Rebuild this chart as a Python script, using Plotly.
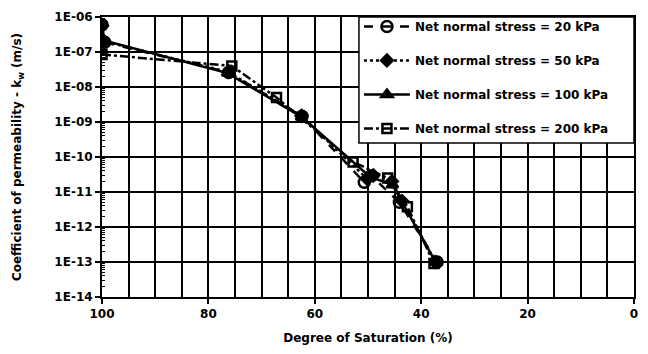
import plotly.graph_objects as go

# Degree of saturation (%) and coefficient of permeability k_w (m/s)
s_20 = [100, 99.5, 76.2, 62.4, 50.7, 49.4, 44.1, 37.0]
k_20 = [6.0e-7, 1.9e-7, 2.6e-8, 1.45e-9, 1.9e-11, 2.9e-11, 5.1e-12, 1.0e-13]

s_50 = [100, 99.6, 76.3, 62.5, 50.2, 49.0, 45.5, 43.6, 37.3]
k_50 = [5.6e-7, 2.0e-7, 2.7e-8, 1.5e-9, 2.4e-11, 3.0e-11, 2.0e-11, 5.5e-12, 1.0e-13]

s_100 = [100, 76.4, 62.5, 49.6, 45.4, 37.3]
k_100 = [2.2e-7, 2.5e-8, 1.4e-9, 2.7e-11, 1.6e-11, 1.0e-13]

s_200 = [100, 75.6, 67.2, 52.8, 46.3, 42.6, 37.6]
k_200 = [8.5e-8, 4.0e-8, 5.0e-9, 7.2e-11, 2.5e-11, 3.8e-12, 9.0e-14]

series_names = ["Net normal stress = 20 kPa", "Net normal stress = 50 kPa",
                "Net normal stress = 100 kPa", "Net normal stress = 200 kPa"]

y_tickvals = [1e-6, 1e-7, 1e-8, 1e-9, 1e-10, 1e-11, 1e-12, 1e-13, 1e-14]
y_ticktext = ["1E-06", "1E-07", "1E-08", "1E-09", "1E-10", "1E-11", "1E-12", "1E-13", "1E-14"]
x_tickvals = [100, 80, 60, 40, 20, 0]

FONT = "DejaVu Sans"

# log minor tick positions (2..9 within each decade)
y_minor = [m * d for d in y_tickvals[1:] for m in range(2, 10)]

fig = go.Figure()
styles = [
    dict(dash="dash", symbol="circle-open", size=11),
    dict(dash="dot", symbol="diamond", size=9),
    dict(dash="solid", symbol="triangle-up", size=10),
    dict(dash="dashdot", symbol="square-open", size=9),
]
data = [(s_20, k_20), (s_50, k_50), (s_100, k_100), (s_200, k_200)]
for i, ((xs, ys), st, nm) in enumerate(zip(data, styles, series_names)):
    fig.add_trace(go.Scatter(
        x=xs, y=ys, name=nm, mode="lines+markers", legendgroup=str(i),
        line=dict(color="black", width=2.5, dash=st["dash"]),
        marker=dict(symbol=st["symbol"], size=st["size"], color="black",
                    line=dict(color="black", width=2.5)),
    ))

# legend frame (white box with black border)
fig.add_shape(type="rect", xref="paper", yref="paper", x0=0.483, x1=1.0,
              y0=0.55, y1=1.0, fillcolor="white",
              line=dict(color="black", width=1.5), layer="above")

fig.update_layout(
    width=648, height=354,
    margin=dict(l=102, r=10, t=15, b=57),
    paper_bgcolor="white", plot_bgcolor="white",
    font=dict(family=FONT, size=12, color="black", weight="bold"),
    showlegend=True,
    legend=dict(x=0.483, y=1.018, xanchor="left", yanchor="top",
                bgcolor="rgba(0,0,0,0)", borderwidth=0,
                font=dict(family=FONT, size=12, color="black", weight="bold"),
                tracegroupgap=15, itemwidth=46),
)
fig.update_xaxes(
    range=[100, 0], tickvals=x_tickvals, ticks="outside", ticklen=5,
    tickwidth=1.5, tickcolor="black",
    showgrid=True, gridcolor="black", gridwidth=1.5,
    minor=dict(dtick=5, showgrid=True, gridcolor="black", gridwidth=1.5),
    showline=True, linecolor="black", linewidth=2, mirror=True,
    zeroline=False,
    tickfont=dict(family=FONT, size=12, weight="bold"),
    title=dict(text="Degree of Saturation (%)", standoff=13,
               font=dict(family=FONT, size=12, weight="bold")),
)
fig.update_yaxes(
    type="log", range=[-14, -6], tickvals=y_tickvals, ticktext=y_ticktext,
    ticks="outside", ticklen=5, tickwidth=1.5, tickcolor="black",
    showgrid=True, gridcolor="black", gridwidth=1.5,
    minor=dict(tickmode="array", tickvals=y_minor, ticks="inside", ticklen=3,
               tickwidth=1, tickcolor="black", showgrid=False),
    showline=True, linecolor="black", linewidth=2, mirror=True,
    zeroline=False,
    tickfont=dict(family=FONT, size=12, weight="bold"),
    title=dict(text="Coefficient of permeability - k<sub>w</sub> (m/s)", standoff=30,
               font=dict(family=FONT, size=12, weight="bold")),
)

fig.write_html("out.html", config={"displayModeBar": False},
               post_script="document.body.style.margin='0';document.body.style.overflow='hidden';")
